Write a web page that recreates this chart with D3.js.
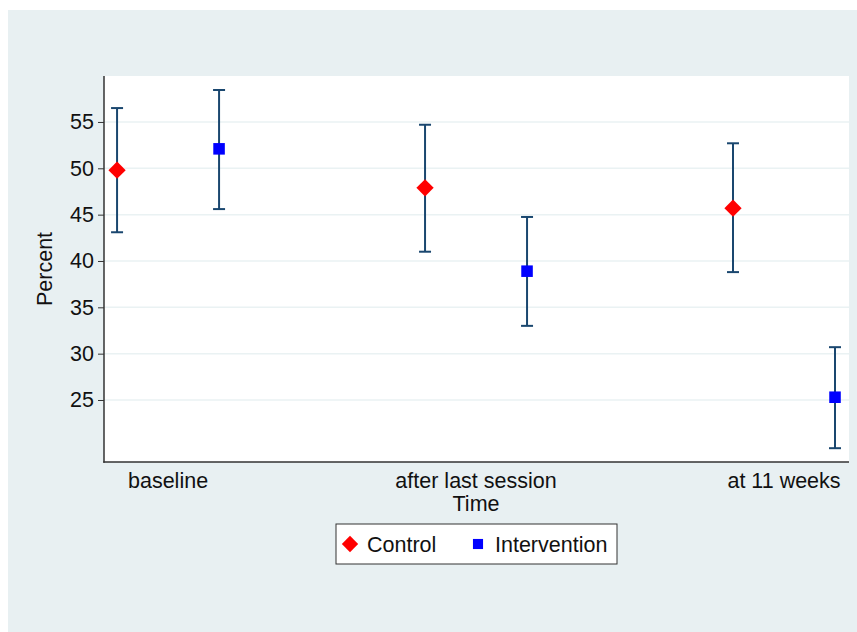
<!DOCTYPE html>
<html>
<head>
<meta charset="utf-8">
<script src="https://cdn.jsdelivr.net/npm/d3@7.9.0/dist/d3.min.js"></script>
<style>
  html, body { margin: 0; padding: 0; background: #fff; }
  svg { display: block; font-family: "Liberation Sans", Arial, sans-serif; }
</style>
</head>
<body>
<svg id="chart" width="857" height="632"></svg>
<script>
const groups = ['baseline', 'after last session', 'at 11 weeks'];
const seriesNames = ['Control', 'Intervention'];
const controlMean  = [49.8, 47.9, 45.7];
const controlLow   = [43.1, 41.0, 38.8];
const controlHigh  = [56.5, 54.7, 52.7];
const interMean    = [52.1, 38.9, 25.3];
const interLow     = [45.6, 33.0, 19.8];
const interHigh    = [58.45, 44.75, 30.7];
const yTicks = [25, 30, 35, 40, 45, 50, 55];

const svg = d3.select('#chart');
const W = 857, H = 632;
const plot = { left: 104, right: 849, top: 76, bottom: 462 };
const fs = 21.5;

// background panel
svg.append('rect').attr('x', 8).attr('y', 10).attr('width', W - 8).attr('height', H - 10)
  .attr('fill', '#e8f0f2');
svg.append('rect').attr('x', plot.left).attr('y', plot.top)
  .attr('width', plot.right - plot.left).attr('height', plot.bottom - plot.top)
  .attr('fill', '#fff');

const x = d3.scaleLinear().domain([-0.208, 2.211]).range([plot.left, plot.right]);
const y = d3.scaleLinear().domain([18.31, 59.96]).range([plot.bottom, plot.top]);

// gridlines
svg.append('g').selectAll('line').data(yTicks).join('line')
  .attr('x1', plot.left).attr('x2', plot.right)
  .attr('y1', d => y(d)).attr('y2', d => y(d))
  .attr('stroke', '#eaf2f3').attr('stroke-width', 1.5);

// y axis
const yAxis = svg.append('g').attr('transform', `translate(${plot.left},0)`)
  .call(d3.axisLeft(y).tickValues(yTicks).tickSize(6).tickPadding(4));
yAxis.select('.domain').remove();
yAxis.selectAll('.tick line').attr('stroke', '#333').attr('stroke-width', 1);
yAxis.selectAll('.tick text').attr('font-size', fs).attr('fill', '#111')
  .attr('font-family', '"Liberation Sans", Arial, sans-serif');
svg.append('line').attr('x1', plot.left).attr('x2', plot.left)
  .attr('y1', plot.top).attr('y2', plot.bottom + 0.75)
  .attr('stroke', '#333').attr('stroke-width', 1.5);

// x axis
svg.append('line').attr('x1', plot.left - 0.75).attr('x2', plot.right)
  .attr('y1', plot.bottom).attr('y2', plot.bottom)
  .attr('stroke', '#333').attr('stroke-width', 1.5);
svg.append('g').selectAll('text').data(groups).join('text')
  .attr('x', (d, i) => x(i)).attr('y', plot.bottom + 26)
  .attr('text-anchor', 'middle').attr('font-size', fs).attr('fill', '#111')
  .text(d => d);

svg.append('text').attr('x', x(1)).attr('y', plot.bottom + 49)
  .attr('text-anchor', 'middle').attr('font-size', fs).attr('fill', '#111').text('Time');
svg.append('text').attr('transform', `translate(52,${(y(55) + y(25)) / 2 + 8}) rotate(-90)`)
  .attr('text-anchor', 'middle').attr('font-size', fs).attr('fill', '#111').text('Percent');

// error bars + markers
const off = 0.1656;
const series = [
  { name: 'Control', mean: controlMean, low: controlLow, high: controlHigh, dx: -off, color: '#ff0000', shape: d3.symbolDiamond2, size: 190 },
  { name: 'Intervention', mean: interMean, low: interLow, high: interHigh, dx: off, color: '#0000ff', shape: d3.symbolSquare2, size: 170 }
];
const barColor = '#1a476f';
const cap = 6;

series.forEach(s => {
  const g = svg.append('g');
  const pts = s.mean.map((m, i) => ({ xv: i + s.dx, m, lo: s.low[i], hi: s.high[i] }));
  g.selectAll('line.v').data(pts).join('line').attr('class', 'v')
    .attr('x1', d => x(d.xv)).attr('x2', d => x(d.xv))
    .attr('y1', d => y(d.lo)).attr('y2', d => y(d.hi))
    .attr('stroke', barColor).attr('stroke-width', 2);
  g.selectAll('line.hi').data(pts).join('line').attr('class', 'hi')
    .attr('x1', d => x(d.xv) - cap).attr('x2', d => x(d.xv) + cap)
    .attr('y1', d => y(d.hi)).attr('y2', d => y(d.hi))
    .attr('stroke', barColor).attr('stroke-width', 2);
  g.selectAll('line.lo').data(pts).join('line').attr('class', 'lo')
    .attr('x1', d => x(d.xv) - cap).attr('x2', d => x(d.xv) + cap)
    .attr('y1', d => y(d.lo)).attr('y2', d => y(d.lo))
    .attr('stroke', barColor).attr('stroke-width', 2);
  g.selectAll('path').data(pts).join('path')
    .attr('transform', d => `translate(${x(d.xv)},${y(d.m)})`)
    .attr('d', d3.symbol().type(s.shape).size(s.size))
    .attr('fill', s.color);
});

// legend
const lg = svg.append('g');
lg.append('rect').attr('x', 336).attr('y', 524).attr('width', 281).attr('height', 40)
  .attr('fill', '#fff').attr('stroke', '#333').attr('stroke-width', 1);
const legendX = [350, 478];
series.forEach((s, i) => {
  lg.append('path').attr('transform', `translate(${legendX[i]},${544})`)
    .attr('d', d3.symbol().type(s.shape).size(i === 0 ? 170 : 130))
    .attr('fill', s.color);
  lg.append('text').attr('x', legendX[i] + 17).attr('y', 552)
    .attr('font-size', fs).attr('fill', '#111').text(seriesNames[i]);
});
</script>
</body>
</html>
